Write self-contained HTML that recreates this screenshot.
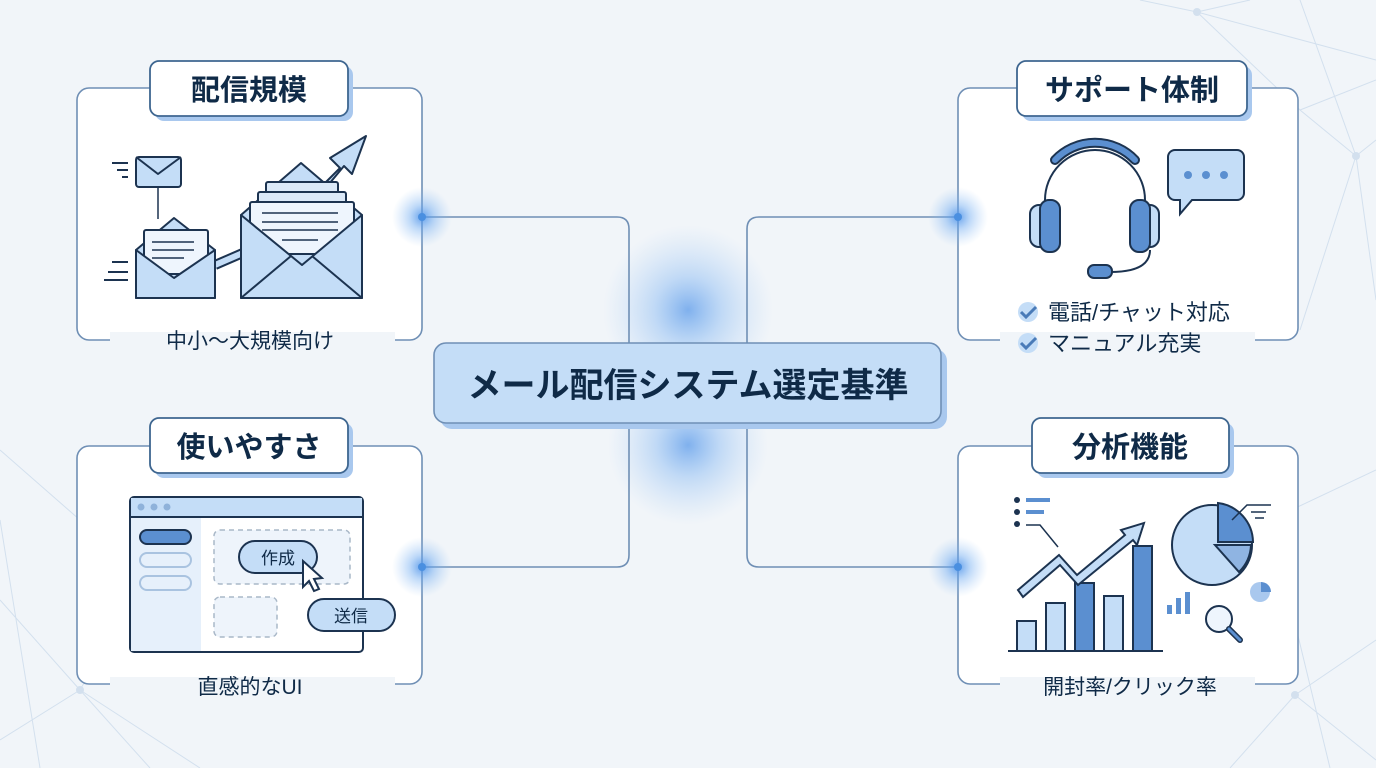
<!DOCTYPE html>
<html><head><meta charset="utf-8"><style>
html,body{margin:0;padding:0;width:1376px;height:768px;overflow:hidden;background:#f1f5f9}
svg{display:block}
text{font-family:"Liberation Sans","Noto Sans CJK JP",sans-serif;fill:#0f2a47}
</style></head><body>
<svg width="1376" height="768" viewBox="0 0 1376 768" xmlns="http://www.w3.org/2000/svg">
<defs>
<radialGradient id="g" cx="50%" cy="50%" r="50%"><stop offset="0" stop-color="#4a90e8" stop-opacity=".85"/><stop offset=".4" stop-color="#6aa8f0" stop-opacity=".45"/><stop offset="1" stop-color="#9cc6f5" stop-opacity="0"/></radialGradient>
</defs>
<rect width="1376" height="768" fill="#f1f5f9"/>
<g stroke="#d3e0ee" stroke-width="1" fill="none">
<path d="M1197 12 L1376 60 M1197 12 L1140 0 M1197 12 L1300 110 L1356 156 L1376 140 M1197 12 L1250 0 M1356 156 L1376 300 M1300 110 L1376 80 M1356 156 L1300 330 M1270 520 L1376 470 M1295 695 L1376 640 M1295 695 L1376 760 M1295 695 L1230 768 M1270 520 L1330 768 M1356 156 L1300 0"/>
<path d="M0 450 L80 520 M0 600 L80 690 L150 768 M80 690 L0 740 M80 690 L200 768 M0 520 L40 768 M80 690 L120 620"/>
</g>
<g fill="#d3e0ee"><circle cx="1197" cy="12" r="4"/><circle cx="1356" cy="156" r="4"/><circle cx="1295" cy="695" r="4"/><circle cx="80" cy="690" r="4"/></g>
<circle cx="688" cy="310" r="85" fill="url(#g)" opacity=".8"/>
<circle cx="688" cy="445" r="80" fill="url(#g)" opacity=".8"/>
<g stroke="#6f8fb5" stroke-width="1.6" fill="none">
<path d="M422 217 H617 Q629 217 629 229 V555 Q629 567 617 567 H422"/>
<path d="M958 217 H759 Q747 217 747 229 V555 Q747 567 759 567 H958"/>
</g>
<rect x="440" y="349" width="507" height="80" rx="12" fill="#a9c8ee"/>
<rect x="434" y="343" width="507" height="80" rx="12" fill="#c4ddf7" stroke="#6f8fb5" stroke-width="1.6"/>
<text x="688" y="397" font-size="34" font-weight="bold" text-anchor="middle">メール配信システム選定基準</text>

<g fill="#fff" stroke="#6f8fb5" stroke-width="1.6">
<rect x="77" y="88" width="345" height="252" rx="12"/>
<rect x="958" y="88" width="340" height="252" rx="12"/>
<rect x="77" y="446" width="345" height="238" rx="12"/>
<rect x="958" y="446" width="340" height="238" rx="12"/>
</g>
<g fill="#f1f5f9">
<rect x="110" y="332" width="285" height="20"/>
<rect x="1000" y="332" width="255" height="30"/>
<rect x="110" y="677" width="285" height="20"/>
<rect x="1000" y="677" width="255" height="20"/>
</g>
<!-- glows over card edges -->
<circle cx="422" cy="217" r="30" fill="url(#g)"/>
<circle cx="422" cy="567" r="30" fill="url(#g)"/>
<circle cx="958" cy="217" r="30" fill="url(#g)"/>
<circle cx="958" cy="567" r="30" fill="url(#g)"/>
<g fill="#4a8fe0"><circle cx="422" cy="217" r="4"/><circle cx="422" cy="567" r="4"/><circle cx="958" cy="217" r="4"/><circle cx="958" cy="567" r="4"/></g>
<g>
<rect x="155" y="66" width="198" height="55" rx="9" fill="#a9c8ee"/>
<rect x="150" y="61" width="198" height="55" rx="9" fill="#fff" stroke="#3e6690" stroke-width="1.8"/>
<text x="249" y="100" font-size="29" font-weight="bold" text-anchor="middle">配信規模</text>
<rect x="1022" y="66" width="230" height="55" rx="9" fill="#a9c8ee"/>
<rect x="1017" y="61" width="230" height="55" rx="9" fill="#fff" stroke="#3e6690" stroke-width="1.8"/>
<text x="1132" y="100" font-size="29" font-weight="bold" text-anchor="middle">サポート体制</text>
<rect x="155" y="423" width="198" height="55" rx="9" fill="#a9c8ee"/>
<rect x="150" y="418" width="198" height="55" rx="9" fill="#fff" stroke="#3e6690" stroke-width="1.8"/>
<text x="249" y="457" font-size="29" font-weight="bold" text-anchor="middle">使いやすさ</text>
<rect x="1037" y="423" width="197" height="55" rx="9" fill="#a9c8ee"/>
<rect x="1032" y="418" width="197" height="55" rx="9" fill="#fff" stroke="#3e6690" stroke-width="1.8"/>
<text x="1130" y="457" font-size="29" font-weight="bold" text-anchor="middle">分析機能</text>
</g>
<text x="250" y="348" font-size="21" text-anchor="middle">中小〜大規模向け</text>
<text x="250" y="694" font-size="21" text-anchor="middle">直感的なUI</text>
<text x="1130" y="694" font-size="21" text-anchor="middle">開封率/クリック率</text>
<text x="1048" y="320" font-size="22">電話/チャット対応</text>
<text x="1048" y="351" font-size="22">マニュアル充実</text>
<g><circle cx="1028" cy="312" r="10" fill="#c4ddf7"/><path d="M1021 312 l5 5 l10 -10" stroke="#4a7bb8" stroke-width="3" fill="none"/>
<circle cx="1028" cy="343" r="10" fill="#c4ddf7"/><path d="M1021 343 l5 5 l10 -10" stroke="#4a7bb8" stroke-width="3" fill="none"/></g>

<g stroke="#1c3350" stroke-width="2" stroke-linejoin="round">
<path d="M112 163 h16 M117 170 h11 M122 177 h6 M112 262 h16 M108 272 h20 M104 280 h24" fill="none"/>
<rect x="136" y="157" width="45" height="30" rx="3" fill="#c4ddf7"/>
<path d="M136 157 l22 17 l23 -17" fill="none"/>
<path d="M158 187 v32" fill="none" stroke-width="1.5"/>
<path d="M215 265 L245 252" stroke="#1c3350" stroke-width="10"/>
<path d="M215 265 L245 252" stroke="#c4ddf7" stroke-width="6"/>
<path d="M136 250 l38 -32 l41 32 v48 h-79z" fill="#c4ddf7"/>
<rect x="144" y="230" width="64" height="44" rx="2" fill="#eef5fd"/>
<path d="M152 242 h42 M152 250 h42 M152 258 h32" fill="none" stroke-width="1.5"/>
<path d="M136 250 v48 h79 v-48 l-41 28z" fill="#c4ddf7"/>
<path d="M318 190 l22 -22 l-10 -10 l36 -22 l-14 38 l-8 -8 l-20 24z" fill="#c4ddf7"/>
<path d="M241 215 l60 -52 l61 52 v83 h-121z" fill="#c4ddf7"/>
<rect x="266" y="182" width="72" height="12" rx="2" fill="#dbe9f8"/>
<rect x="258" y="192" width="88" height="12" rx="2" fill="#dbe9f8"/>
<rect x="250" y="202" width="104" height="52" rx="2" fill="#eef5fd"/>
<path d="M262 213 h76 M262 222 h76 M262 230 h76 M282 240 h36" fill="none" stroke-width="1.5"/>
<path d="M241 215 v83 h121 v-83 l-60 50z" fill="#c4ddf7"/>
<path d="M241 298 l50 -42 M362 298 l-50 -42" fill="none"/>
</g>

<g stroke="#1c3350" stroke-width="2">
<path d="M1045 220 v-20 a50 50 0 0 1 100 0 v20" fill="none"/>
<path d="M1055 160 a55 55 0 0 1 80 0" stroke="#1c3350" stroke-width="10" fill="none" stroke-linecap="round"/>
<path d="M1055 160 a55 55 0 0 1 80 0" stroke="#5b8fd0" stroke-width="6" fill="none" stroke-linecap="round"/>
<rect x="1030" y="205" width="18" height="42" rx="9" fill="#c4ddf7"/>
<rect x="1040" y="200" width="20" height="52" rx="9" fill="#5b8fd0"/>
<rect x="1141" y="205" width="18" height="42" rx="9" fill="#c4ddf7"/>
<rect x="1130" y="200" width="20" height="52" rx="9" fill="#5b8fd0"/>
<path d="M1150 250 q0 22 -40 22" fill="none"/>
<rect x="1088" y="265" width="24" height="13" rx="6" fill="#5b8fd0"/>
<path d="M1175 150 h62 a7 7 0 0 1 7 7 v36 a7 7 0 0 1 -7 7 h-45 l-12 14 v-14 h-5 a7 7 0 0 1 -7 -7 v-36 a7 7 0 0 1 7 -7z" fill="#c4ddf7"/>
</g>
<g fill="#5b8fd0"><circle cx="1188" cy="175" r="4"/><circle cx="1206" cy="175" r="4"/><circle cx="1224" cy="175" r="4"/></g>

<g stroke="#1c3350" stroke-width="2">
<rect x="130" y="497" width="233" height="155" rx="4" fill="#fff"/>
<rect x="131" y="498" width="231" height="19" fill="#c4ddf7" stroke="none"/>
<path d="M130 517 h233" />
<rect x="131" y="518" width="70" height="133" fill="#e6f0fb" stroke="none"/>
<rect x="140" y="530" width="51" height="14" rx="7" fill="#5b8fd0"/>
<rect x="140" y="553" width="51" height="14" rx="7" fill="none" stroke="#a9c3e0"/>
<rect x="140" y="576" width="51" height="14" rx="7" fill="none" stroke="#a9c3e0"/>
<rect x="214" y="530" width="136" height="54" rx="6" fill="#eef4fb" stroke="#a9b8c8" stroke-dasharray="5 4" stroke-width="1.5"/>
<rect x="214" y="597" width="63" height="40" rx="6" fill="#eef4fb" stroke="#a9b8c8" stroke-dasharray="5 4" stroke-width="1.5"/>
<rect x="239" y="541" width="78" height="32" rx="16" fill="#c4ddf7"/>
<rect x="308" y="599" width="87" height="32" rx="16" fill="#c4ddf7"/>
<path d="M303 561 l0 26 l6 -6 l5 10 l5 -2 l-5 -10 l8 -1 z" fill="#fff"/>
</g>
<g fill="#8fb2da"><circle cx="141" cy="507" r="3.5"/><circle cx="154" cy="507" r="3.5"/><circle cx="167" cy="507" r="3.5"/></g>
<text x="278" y="564" font-size="17" text-anchor="middle">作成</text>
<text x="351" y="622" font-size="17" text-anchor="middle">送信</text>

<g stroke="#1c3350" stroke-width="2">
<path d="M1008 651 h155" fill="none"/>
<rect x="1017" y="621" width="19" height="30" fill="#c4ddf7"/>
<rect x="1046" y="603" width="19" height="48" fill="#c4ddf7"/>
<rect x="1075" y="583" width="19" height="68" fill="#5b8fd0"/>
<rect x="1104" y="596" width="19" height="55" fill="#c4ddf7"/>
<rect x="1133" y="546" width="19" height="105" fill="#5b8fd0"/>
<path d="M1018 590 l41 -35 l18 20 l48 -40 l-4 -5 l23 -7 l-7 22 l-4 -5 l-55 45 l-18 -20 l-37 32z" fill="#c4ddf7"/>
<path d="M1026 525 h14 l18 22" fill="none" stroke-width="1.5"/>
<path d="M1026 500 h24 M1026 512 h18" stroke="#5b8fd0" stroke-width="4"/>
<circle cx="1212" cy="545" r="40" fill="#c4ddf7"/>
<path d="M1215 545 h36 a40 40 0 0 1 -12 27z" fill="#8fb4e2"/>
<path d="M1218 503 v39 h35 a40 40 0 0 0 -35 -39z" fill="#5b8fd0"/>
<path d="M1232 520 l15 -15 h24 M1251 512 h15 M1255 518 h9" fill="none" stroke-width="1.5"/>
<circle cx="1219" cy="619" r="13" fill="#eef5fd"/>
<path d="M1229 629 l11 11" stroke-width="6" stroke-linecap="round"/>
<path d="M1229 629 l11 11" stroke="#5b8fd0" stroke-width="3" stroke-linecap="round"/>
</g>
<g fill="#5b8fd0"><rect x="1167" y="605" width="5" height="9"/><rect x="1176" y="598" width="5" height="16"/><rect x="1185" y="592" width="5" height="22"/></g>
<g fill="#1c3350"><circle cx="1017" cy="500" r="3"/><circle cx="1017" cy="512" r="3"/><circle cx="1017" cy="524" r="3"/></g>
<circle cx="1260" cy="592" r="10" fill="#a9c8ee"/><path d="M1261 582 v10 h10 a10 10 0 0 0 -10 -10z" fill="#5b8fd0"/>
</svg>
</body></html>
